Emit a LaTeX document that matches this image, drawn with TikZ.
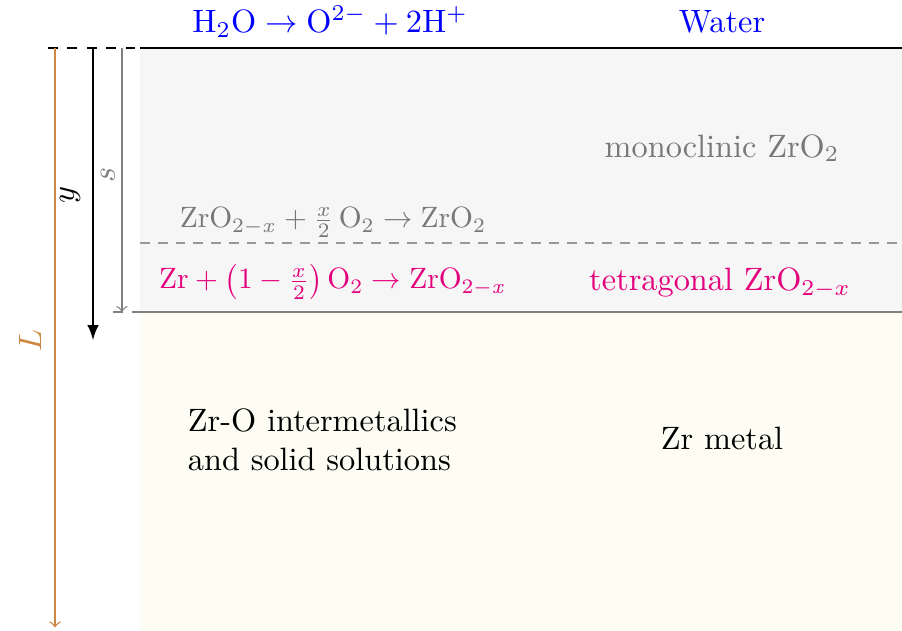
\documentclass[tikz,border=0pt]{standalone}
\usepackage{amsmath}
\begin{document}
\begin{tikzpicture}[
    label/.style={font=\normalsize, inner sep=1pt},
    reaction/.style={label, scale=0.91},
    layerline/.style={semithick},
    depth/.style={->, thin}
]

% Colors
\definecolor{oxfill}{RGB}{246,246,246}
\definecolor{metfill}{RGB}{253,253,243}
\definecolor{reacgray}{RGB}{120,120,120}
\definecolor{tetmag}{RGB}{228,0,124}
\definecolor{lencol}{RGB}{205,135,65}

\useasboundingbox (0,0) rectangle (9.804,-6.848);

% Layers
\fill[oxfill] (1.522,-0.522) rectangle (9.804,-3.391);
\fill[metfill] (1.522,-3.391) rectangle (9.804,-6.848);

% Boundaries
\coordinate (surfL) at (0.522,-0.522);
\coordinate (surfM) at (1.522,-0.522);
\coordinate (surfR) at (9.804,-0.522);
\draw[layerline, dashed] (surfL) -- (surfM);
\draw[layerline] (surfM) -- (surfR);

\coordinate (phaseL) at (1.522,-2.641);
\coordinate (phaseR) at (9.804,-2.641);
\draw[thin, gray!80, dash pattern=on 3pt off 2.5pt] (phaseL) -- (phaseR);

\coordinate (frontL) at (1.228,-3.391);
\coordinate (frontM) at (1.522,-3.391);
\coordinate (frontR) at (9.804,-3.391);
\draw[semithick, gray, dashed] (frontL) -- (frontM);
\draw[semithick, gray] (frontM) -- (frontR);

% Depth arrows
\coordinate (Ltop) at (0.598,-0.522);
\coordinate (Lbot) at (0.598,-6.82);
\draw[depth, lencol] (Ltop) -- (Lbot);
\node[label, lencol, rotate=90] (Llab) at (0.326,-3.696) {$L$};

\coordinate (ytop) at (1.011,-0.522);
\coordinate (ybot) at (1.011,-3.696);
\draw[->, semithick, >=latex] (ytop) -- (ybot);
\node[label, rotate=90] (ylab) at (0.761,-2.12) {$y$};

\coordinate (stop) at (1.326,-0.522);
\coordinate (sbot) at (1.326,-3.391);
\draw[depth, gray] (stop) -- (sbot);
\node[label, gray, rotate=90] (slab) at (1.174,-1.902) {$s$};

% Top texts
\node[label, blue] (react) at (3.587,-0.239) {$\mathrm{H_2O} \rightarrow \mathrm{O^{2-}} + 2\mathrm{H^+}$};
\node[label, blue] (water) at (7.848,-0.239) {Water};

% Oxide texts
\node[label, reacgray] (mono) at (7.848,-1.609) {monoclinic ZrO$_2$};
\node[reaction, reacgray] (reacmono) at (3.62,-2.42) {$\mathrm{ZrO_{2-\mathit{x}}} + \tfrac{x}{2}\,\mathrm{O_2} \rightarrow \mathrm{ZrO_2}$};
\node[reaction, tetmag] (reactet) at (3.62,-3.06) {$\mathrm{Zr} + \left(1-\tfrac{x}{2}\right)\mathrm{O_2} \rightarrow \mathrm{ZrO_{2-\mathit{x}}}$};
\node[label, tetmag] (tet) at (7.826,-3.076) {tetragonal ZrO$_{2-x}$};

% Metal texts
\node[label, align=left, anchor=west] (inter) at (2.0,-4.783) {Zr-O intermetallics\\and solid solutions};
\node[label] (metal) at (7.848,-4.761) {Zr metal};

\end{tikzpicture}
\end{document}
